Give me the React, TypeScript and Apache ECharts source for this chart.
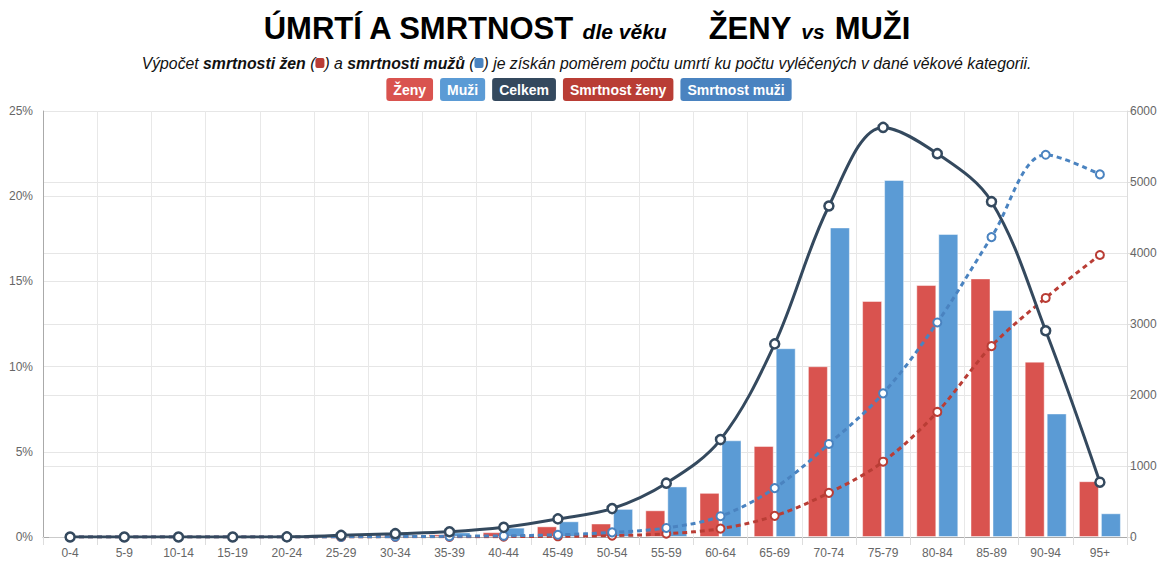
import React, { useEffect, useRef } from "react";
import * as echarts from "echarts";

const categories = ["0-4", "5-9", "10-14", "15-19", "20-24", "25-29", "30-34", "35-39", "40-44", "45-49", "50-54", "55-59", "60-64", "65-69", "70-74", "75-79", "80-84", "85-89", "90-94", "95+"];
const zeny = [0, 0, 0, 0, 1, 8, 20, 38, 68, 150, 190, 376, 622, 1282, 2405, 3324, 3549, 3642, 2470, 786];
const muzi = [0, 0, 0, 0, 2, 10, 33, 65, 132, 221, 396, 712, 1362, 2659, 4360, 5028, 4268, 3197, 1740, 334];
const celkem = [0, 0, 0, 0, 2, 23, 47, 74, 136, 255, 400, 758, 1372, 2720, 4662, 5769, 5399, 4723, 2905, 772];
const smrtnostZeny = [0, 0, 0, 0, 0, 0, 0.01, 0.01, 0.02, 0.04, 0.08, 0.19, 0.49, 1.24, 2.59, 4.42, 7.34, 11.2, 14.03, 16.55];
const smrtnostMuzi = [0, 0, 0, 0, 0, 0.01, 0.02, 0.04, 0.07, 0.13, 0.27, 0.53, 1.22, 2.87, 5.46, 8.43, 12.59, 17.6, 22.43, 21.28];
const leftTicks = [0, 5, 10, 15, 20, 25];
const rightTicks = [0, 1000, 2000, 3000, 4000, 5000, 6000];

const C_ZENY = "#d9534f";
const C_MUZI = "#5b9bd5";
const C_CELKEM = "#34495e";
const C_SZ = "#b93d35";
const C_SM = "#4a83c0";
const FONT = "Liberation Sans";

export default function App() {
  const ref = useRef<HTMLDivElement>(null);
  useEffect(() => {
    const chart = echarts.init(ref.current!, null, { renderer: "svg" });
    const lineMarker = (color: string, size: number, bw: number) => ({
      symbol: "circle",
      symbolSize: size,
      itemStyle: { color: "#fff", borderColor: color, borderWidth: bw },
    });
    const legendItem = (name: string, bg: string) => ({
      name,
      textStyle: {
        color: "#fff",
        backgroundColor: bg,
        padding: [5, 7, 4, 7],
        borderRadius: 3,
        fontWeight: "bold",
        fontSize: 14,
        fontFamily: FONT,
      },
    });
    chart.setOption({
      animation: false,
      textStyle: { fontFamily: FONT },
      title: [
        {
          left: "center",
          top: 8,
          text: "{a|ÚMRTÍ A SMRTNOST} {b|dle věku}{g| }{a|ŽENY}{s| }{b|vs}{s| }{a|MUŽI}",
          textStyle: {
            fontFamily: FONT,
            fontSize: 30,
            fontWeight: "bold",
            color: "#000",
            rich: {
              a: { fontFamily: FONT, fontSize: 31, fontWeight: "bold", color: "#000" },
              b: { fontFamily: FONT, fontSize: 21, fontWeight: "bold", fontStyle: "italic", color: "#000", padding: [6, 0, 0, 0] },
              g: { width: 42 },
              s: { width: 10 },
            },
          },
        },
        {
          left: "center",
          top: 50,
          text: "Výpočet {b|smrtnosti žen} ({r| }) a {b|smrtnosti mužů} ({u| }) je získán poměrem počtu umrtí ku počtu vyléčených v dané věkové kategorii.",
          textStyle: {
            fontFamily: FONT,
            fontSize: 15.8,
            fontStyle: "italic",
            fontWeight: "normal",
            color: "#111",
            rich: {
              b: { fontFamily: FONT, fontSize: 15.8, fontStyle: "italic", fontWeight: "bold", color: "#111" },
              r: { width: 9, height: 10, backgroundColor: C_SZ, borderRadius: 2 },
              u: { width: 9, height: 10, backgroundColor: C_SM, borderRadius: 2 },
            },
          },
        },
      ],
      legend: {
        top: 73,
        left: "center",
        icon: "none",
        itemWidth: 0,
        itemHeight: 0,
        itemGap: 2,
        selectedMode: false,
        data: [
          legendItem("Ženy", C_ZENY),
          legendItem("Muži", C_MUZI),
          legendItem("Celkem", C_CELKEM),
          legendItem("Smrtnost ženy", C_SZ),
          legendItem("Smrtnost muži", C_SM),
        ],
      },
      grid: { left: 43, right: 46, top: 111, bottom: 26 },
      xAxis: {
        type: "category",
        data: categories,
        axisLine: { show: true, lineStyle: { color: "#aaa" } },
        axisTick: { show: true, length: 8, lineStyle: { color: "#ddd" } },
        splitLine: { show: true, lineStyle: { color: "#e8e8e8" } },
        axisLabel: { color: "#666", fontSize: 12, margin: 10, fontFamily: FONT },
      },
      yAxis: [
        {
          type: "value",
          min: leftTicks[0],
          max: leftTicks[leftTicks.length - 1],
          interval: 5,
          position: "left",
          axisLine: { show: true, lineStyle: { color: "#aaa" } },
          axisTick: { show: false },
          splitLine: { show: true, lineStyle: { color: "#e6e6e6" } },
          axisLabel: { color: "#666", fontSize: 12, margin: 10, formatter: "{value}%", fontFamily: FONT },
        },
        {
          type: "value",
          min: rightTicks[0],
          max: rightTicks[rightTicks.length - 1],
          interval: 1000,
          position: "right",
          axisLine: { show: true, lineStyle: { color: "#ddd" } },
          axisTick: { show: true, length: 6, lineStyle: { color: "#ddd" } },
          splitLine: { show: true, lineStyle: { color: "#e6e6e6" } },
          axisLabel: { color: "#666", fontSize: 12, margin: 3, fontFamily: FONT, formatter: (v: number) => String(v) },
        },
      ],
      series: [
        {
          name: "Ženy",
          type: "bar",
          yAxisIndex: 1,
          data: zeny,
          barWidth: 20,
          barGap: "10%",
          itemStyle: { color: C_ZENY, borderColor: "rgba(255,255,255,0.45)", borderWidth: 1 },
        },
        {
          name: "Muži",
          type: "bar",
          yAxisIndex: 1,
          data: muzi,
          barWidth: 20,
          barGap: "10%",
          itemStyle: { color: C_MUZI, borderColor: "rgba(255,255,255,0.45)", borderWidth: 1 },
        },
        {
          name: "Celkem",
          type: "line",
          yAxisIndex: 1,
          data: celkem,
          smooth: 0.35,
          lineStyle: { color: C_CELKEM, width: 3 },
          ...lineMarker(C_CELKEM, 9, 2.5),
          z: 5,
        },
        {
          name: "Smrtnost ženy",
          type: "line",
          yAxisIndex: 0,
          data: smrtnostZeny,
          smooth: 0.35,
          lineStyle: { color: C_SZ, width: 3, type: [5, 4] },
          ...lineMarker(C_SZ, 8, 2),
          z: 4,
        },
        {
          name: "Smrtnost muži",
          type: "line",
          yAxisIndex: 0,
          data: smrtnostMuzi,
          smooth: 0.35,
          lineStyle: { color: C_SM, width: 3, type: [5, 4] },
          ...lineMarker(C_SM, 8, 2),
          z: 4,
        },
      ],
    });
    return () => chart.dispose();
  }, []);
  return (
    <div
      ref={ref}
      style={{ position: "fixed", left: 0, top: 0, width: 1173, height: 563, background: "#fff" }}
    />
  );
}
